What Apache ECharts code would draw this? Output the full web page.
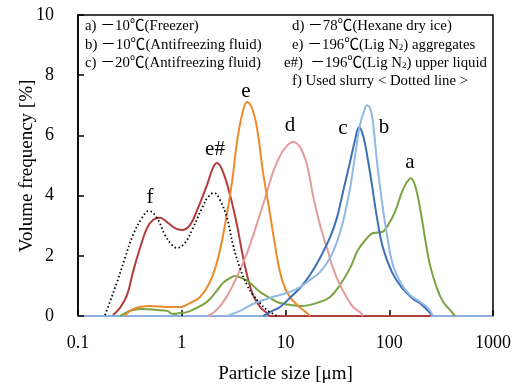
<!DOCTYPE html>
<html><head><meta charset="utf-8">
<script src="https://cdn.jsdelivr.net/npm/echarts@6/dist/echarts.min.js"></script>
<style>html,body{margin:0;padding:0;background:#fff}#c{width:518px;height:385px}</style>
</head><body><div id="c"></div>
<script>
// [particle size µm, volume frequency %]
const seriesA = [[0.254,0],[0.297,0.13],[0.339,0.20],[0.423,0.23],[0.577,0.20],[0.721,0.17],[0.824,0.07],[0.962,0.10],[1.124,0.13],[1.40,0.27],[1.75,0.47],[2.09,0.76],[2.50,1.10],[2.92,1.26],[3.26,1.33],[3.81,1.26],[4.55,1.10],[5.68,0.80],[7.09,0.60],[8.85,0.43],[11.0,0.37],[13.8,0.33],[17.2,0.37],[21.5,0.47],[26.9,0.63],[33.5,1.03],[41.9,1.59],[50.0,2.19],[61.1,2.59],[69.7,2.76],[85.1,2.79],[97.3,3.02],[113.5,3.46],[132.7,4.12],[148.3,4.45],[162.2,4.58],[177,4.35],[198,3.59],[221,2.59],[247,1.69],[288,0.93],[330,0.47],[385,0.20],[430,0]];
const seriesB = [[2.73,0],[3.64,0.17],[4.86,0.40],[7.09,0.60],[8.85,0.70],[11.0,0.80],[13.8,0.96],[17.2,1.20],[21.5,1.46],[26.9,1.93],[31.3,2.46],[35.8,3.12],[41.9,4.25],[46.8,5.32],[52.2,6.35],[57.1,6.80],[61.1,7.00],[66.7,6.80],[71.3,6.11],[76.2,5.12],[85.1,3.79],[95.1,2.69],[108.7,1.69],[132.7,1.03],[158.5,0.70],[198,0.47],[236,0.27],[264,0]];
const seriesC = [[6.07,0],[7.09,0.13],[8.85,0.30],[11.0,0.60],[13.8,0.93],[17.2,1.36],[21.5,1.93],[26.9,2.62],[31.3,3.26],[35.8,4.12],[41.9,5.12],[46.8,5.85],[51.1,6.27],[55.8,6.01],[61.1,5.35],[68.2,4.35],[76.2,3.26],[87.1,2.26],[106.2,1.46],[132.7,0.93],[165.6,0.60],[207,0.37],[247,0.10],[264,0]];
const seriesD = [[1.75,0],[2.00,0.10],[2.34,0.33],[2.73,0.66],[3.12,1.03],[3.64,1.53],[4.26,2.09],[4.86,2.66],[5.68,3.39],[6.63,4.12],[7.58,4.78],[8.85,5.32],[10.3,5.65],[11.8,5.78],[13.8,5.61],[16.1,5.02],[18.4,4.02],[21.5,3.02],[25.1,2.26],[28.7,1.59],[33.5,1.03],[39.2,0.60],[44.8,0.30],[52.2,0.13],[55.8,0]];
const seriesE = [[0.284,0],[0.339,0.23],[0.494,0.33],[0.721,0.30],[0.96,0.30],[1.20,0.43],[1.50,0.63],[1.87,1.13],[2.24,1.93],[2.61,3.02],[3.05,4.45],[3.41,5.78],[3.81,6.68],[4.26,7.11],[4.75,6.91],[5.31,6.25],[6.07,4.78],[7.09,3.39],[7.92,2.36],[8.85,1.46],[10.3,0.80],[12.9,0.37],[16.1,0.10],[17.2,0]];
const seriesEh = [[0.217,0.03],[0.254,0.27],[0.297,0.70],[0.339,1.46],[0.396,2.26],[0.462,2.92],[0.528,3.19],[0.617,3.26],[0.721,3.12],[0.861,2.92],[1.005,2.86],[1.20,3.02],[1.435,3.59],[1.75,4.35],[2.00,4.92],[2.19,5.08],[2.50,4.78],[2.92,4.02],[3.41,3.02],[3.81,2.13],[4.26,1.36],[4.86,0.70],[5.68,0.30],[6.63,0.10],[7.09,0],[250,0]];
const seriesF = [[0.182,0.03],[0.203,0.47],[0.238,1.13],[0.284,1.93],[0.339,2.69],[0.414,3.26],[0.483,3.49],[0.577,3.26],[0.690,2.69],[0.805,2.36],[0.900,2.26],[1.074,2.43],[1.28,2.92],[1.57,3.59],[1.79,3.95],[2.05,4.09],[2.34,3.85],[2.73,3.26],[3.12,2.36],[3.64,1.59],[4.26,1.03],[4.86,0.70],[5.68,0.43],[6.63,0.20],[8.28,0]];
const xTicks = [0.1, 1, 10, 100, 1000];
const yTicks = [0, 2, 4, 6, 8, 10];
const xTitle = 'Particle size [μm]';
const yTitle = 'Volume frequency [%]';
const legendLeft = ['a) －10℃(Freezer)', 'b) －10℃(Antifreezing fluid)', 'c) －20℃(Antifreezing fluid)'];
const legendRight = ['d) －78℃(Hexane dry ice)', 'e) －196℃(Lig {s|2}) aggregates', 'e#)  －196℃(Lig {s|2}) upper liquid', 'f) Used slurry < Dotted line >'];

const serif = "'Liberation Serif','Noto Sans CJK JP',serif";
const chart = echarts.init(document.getElementById('c'), null, {renderer: 'canvas'});
function line(name, data, color, dotted) {
  return {name, type: 'line', data, smooth: 0.4, symbol: 'none',
    lineStyle: {color, width: dotted ? 1.8 : 2, type: dotted ? [1.5, 2.5] : 'solid'}, z: 3};
}
function legText(t) { return t.replace(/\{s\|2\}/g, 'N{s|2}'); }
const graphics = [];
legendLeft.forEach((t, i) => graphics.push({type: 'text', left: 85, top: 19 + i * 18.3,
  style: {text: t, font: '14.8px ' + serif, fill: '#000'}}));
legendRight.forEach((t, i) => graphics.push({type: 'text', left: i === 2 ? 284 : 292, top: 19 + i * 18.3,
  style: {text: legText(t), font: '14.8px ' + serif, fill: '#000',
    rich: {s: {fontSize: 9, fontFamily: serif, verticalAlign: 'bottom', padding: [6, 0, 0, 0]}}}}));
const curveLabels = [['f', 150, 197], ['e#', 215, 149], ['e', 246, 91], ['d', 290, 125], ['c', 343, 128], ['b', 384, 127], ['a', 410, 162]];
curveLabels.forEach(l => graphics.push({type: 'text', x: l[1], y: l[2],
  style: {text: l[0], font: '21px ' + serif, fill: '#000', align: 'center', verticalAlign: 'middle'}}));
graphics.push({type: 'text', x: 27, y: 166, rotation: Math.PI / 2,
  style: {text: yTitle, font: '19px ' + serif, fill: '#000', align: 'center', verticalAlign: 'middle'}});

chart.setOption({
  animation: false,
  backgroundColor: '#fff',
  grid: {left: 78, right: 25, top: 15, bottom: 69, outerBoundsMode: 'none', containLabel: false,
    show: true, borderColor: '#000', borderWidth: 1.5, backgroundColor: 'transparent'},
  xAxis: {type: 'log', logBase: 10, min: xTicks[0], max: xTicks[xTicks.length - 1],
    name: xTitle, nameLocation: 'middle', nameGap: 49,
    nameTextStyle: {fontFamily: serif, fontSize: 19, color: '#000'},
    axisLine: {show: true, lineStyle: {color: '#8eaedb', width: 2}},
    axisTick: {show: true, inside: true, length: 6, lineStyle: {color: '#000', width: 1.5}},
    minorTick: {show: false}, splitLine: {show: false},
    axisLabel: {fontFamily: serif, fontSize: 18, color: '#000', margin: 18,
      formatter: v => { const t = xTicks.find(t => Math.abs(Math.log10(t) - Math.log10(v)) < 1e-6); return t !== undefined ? String(t) : ''; }}},
  yAxis: {type: 'value', min: yTicks[0], max: yTicks[yTicks.length - 1], interval: 2,
    axisLine: {show: true, lineStyle: {color: '#000', width: 1.5}},
    axisTick: {show: true, inside: true, length: 6, lineStyle: {color: '#000', width: 1.5}},
    splitLine: {show: false},
    axisLabel: {fontFamily: serif, fontSize: 18, color: '#000', margin: 24}},
  series: [
    line('e#', seriesEh, '#b23c3c'),
    line('a', seriesA, '#7aa23f'),
    line('d', seriesD, '#e39c9b'),
    line('e', seriesE, '#ec8a2c'),
    line('c', seriesC, '#3d70b2'),
    line('b', seriesB, '#92b8e5'),
    line('f', seriesF, '#000', true)
  ],
  graphic: graphics
});
</script></body></html>
